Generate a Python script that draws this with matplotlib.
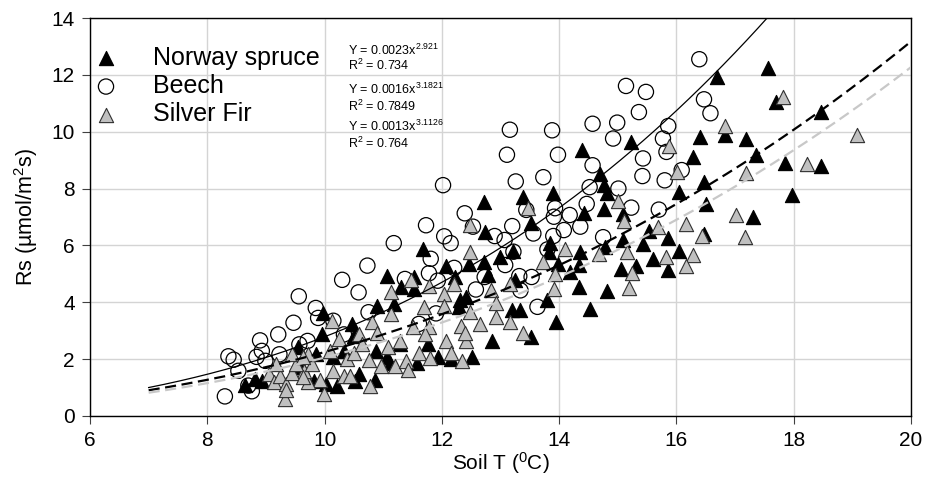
import numpy as np
import matplotlib.pyplot as plt

plt.rcParams['font.family'] = ['Liberation Sans', 'DejaVu Sans']
plt.rcParams['mathtext.fontset'] = 'custom'
plt.rcParams['mathtext.rm'] = 'Liberation Sans'
plt.rcParams['mathtext.it'] = 'Liberation Sans:italic'
plt.rcParams['mathtext.default'] = 'regular'

# Norway spruce (soil T, Rs)
spruce_t = [16.69, 17.56, 17.70, 18.47, 15.22, 16.41, 16.82, 17.19, 16.28, 17.36, 17.85, 18.47,
            17.97, 16.47, 16.05, 16.51, 17.30, 14.69, 14.76, 14.81, 14.76, 14.78, 14.81, 15.09,
            15.09, 15.53, 15.85, 15.43, 16.05, 15.60, 15.85, 15.05, 15.31, 16.47,
            12.72, 13.39, 13.90, 14.39, 13.52, 14.42, 12.74, 13.22, 13.84, 13.83, 13.98, 14.35,
            14.34, 14.18, 12.47, 12.72, 12.79, 12.99, 13.25, 14.34, 13.80, 13.19, 13.34, 13.95,
            14.53, 12.31, 12.42,
            11.67, 12.07, 11.07, 11.53, 11.31, 10.90, 11.18, 10.47, 12.23, 11.53, 12.30, 9.98,
            9.96, 10.15, 10.02, 10.21, 10.52, 10.58, 10.86, 10.88, 11.07, 11.12, 11.28, 11.58,
            11.76, 11.93, 12.16, 12.52, 12.85, 9.82, 9.62, 9.86, 10.33, 10.50, 13.52,
            8.64, 8.81, 8.93, 9.55]
spruce_rs = [11.94, 12.24, 11.06, 10.71, 9.65, 9.82, 9.88, 9.76, 9.12, 9.18, 8.91, 8.79,
             7.76, 8.24, 7.88, 7.47, 7.00, 8.53, 8.12, 7.85, 7.29, 5.94, 4.41, 6.18,
             7.12, 6.51, 6.27, 6.06, 5.82, 5.53, 5.12, 5.18, 5.29, 6.41,
             7.54, 7.69, 7.84, 9.36, 6.78, 7.15, 6.48, 5.80, 6.07, 5.78, 5.36, 5.78,
             5.31, 5.07, 5.36, 5.42, 4.95, 5.60, 4.78, 4.54, 4.07, 3.72, 3.72, 3.31,
             3.78, 4.07, 4.19,
             5.88, 5.26, 4.94, 4.88, 4.55, 3.88, 3.94, 3.24, 4.88, 4.47, 3.82, 3.61,
             2.87, 2.06, 1.13, 1.07, 1.24, 1.48, 1.27, 2.29, 2.06, 1.88, 2.52, 1.88,
             2.52, 2.06, 2.00, 2.06, 2.64, 1.24, 1.71, 2.17, 2.29, 2.81, 2.78,
             1.10, 1.30, 1.24, 2.41]

# Beech
beech_t = [16.39, 15.14, 15.48, 15.36, 14.99, 14.92, 16.47, 16.58, 15.86, 15.77, 15.83, 15.43,
           15.42, 15.80, 16.09, 15.01, 15.23, 15.70, 14.75,
           13.16, 13.88, 14.57, 13.11, 13.98, 13.26, 13.73, 14.57, 14.52, 12.39, 12.53, 13.44,
           13.93, 13.91, 14.18, 14.47, 13.20, 13.56, 14.08, 14.36, 12.90, 13.07, 13.90, 13.22,
           13.08, 13.32, 13.53, 12.73, 12.58, 13.34, 13.63, 13.80,
           12.02, 11.18, 11.73, 12.04, 12.15, 10.30, 10.58, 10.73, 11.81, 12.21, 11.78, 11.93,
           11.37, 10.75, 10.15, 11.61, 11.90,
           9.56, 9.85, 9.89,
           8.30, 8.36, 8.45, 8.53, 8.90, 8.93, 8.84, 9.21, 9.47, 9.57, 9.23, 8.70, 8.76, 8.99,
           9.71, 10.33]
beech_rs = [12.55, 11.61, 11.40, 10.69, 10.32, 9.76, 11.14, 10.65, 10.20, 9.76, 9.29, 9.06,
            8.44, 8.29, 8.65, 8.00, 7.33, 7.26, 6.29,
            10.07, 10.05, 10.28, 9.19, 9.19, 8.25, 8.40, 8.82, 8.05, 7.13, 6.66, 7.25,
            7.31, 7.01, 7.07, 7.46, 6.68, 6.42, 6.54, 6.66, 6.33, 6.19, 6.33, 5.78,
            5.31, 4.92, 4.89, 4.89, 4.45, 4.42, 3.84, 5.86,
            8.12, 6.08, 6.71, 6.32, 6.08, 4.79, 4.35, 5.29, 5.53, 5.21, 5.02, 4.76,
            4.82, 3.65, 3.35, 3.24, 3.61,
            4.21, 3.80, 3.45,
            0.69, 2.10, 1.98, 1.59, 2.66, 2.29, 2.08, 2.87, 3.28, 2.52, 2.17, 1.07, 0.87, 1.94,
            2.64, 2.87]

# Silver fir
fir_t = [17.81, 16.82, 15.88, 16.01, 17.19, 18.23, 19.08, 17.02, 17.17, 16.16, 16.44, 15.00,
         15.11, 15.69, 15.15, 15.82, 16.28, 16.17, 15.25, 15.19,
         12.48, 13.47, 12.48, 13.73, 14.10, 13.93, 14.68, 13.91, 13.17, 12.83, 12.92, 12.48,
         12.65, 12.93, 13.17,
         11.47, 11.13, 11.78, 12.04, 12.21, 10.81, 11.69, 12.03, 10.13, 11.13, 11.50, 11.78,
         12.33,
         9.99, 9.93, 9.72, 9.65, 9.79, 10.09, 10.15, 10.33, 10.44, 10.38, 10.75, 10.78,
         10.97, 11.20, 11.39, 11.43, 11.61, 11.80, 11.71, 12.07, 12.16, 12.35, 12.41, 12.40,
         10.58, 10.89, 11.09, 10.24, 10.50, 9.71, 10.64, 11.28, 13.38,
         9.06, 9.14, 9.24, 9.32, 9.35, 9.44, 9.52, 9.18, 9.35, 9.45, 9.64, 9.64]
fir_rs = [11.21, 10.20, 9.49, 8.59, 8.55, 8.88, 9.88, 7.06, 6.29, 6.74, 6.32, 7.56,
          6.86, 6.65, 5.76, 5.59, 5.68, 5.29, 5.02, 4.51,
          6.72, 7.31, 5.78, 5.42, 5.89, 5.01, 5.69, 4.48, 4.66, 4.42, 3.98, 3.66,
          3.25, 3.48, 3.31,
          4.79, 4.35, 4.59, 4.29, 4.65, 3.29, 3.85, 3.88, 3.35, 3.59, 3.12, 3.12,
          3.18,
          0.78, 1.27, 1.19, 1.59, 1.83, 2.29, 1.59, 1.42, 1.42, 2.00, 1.97, 1.07,
          1.77, 1.77, 1.94, 1.62, 2.23, 2.03, 2.87, 2.64, 2.23, 1.94, 2.64, 2.93,
          2.87, 2.93, 2.41, 2.70, 2.23, 2.17, 2.52, 2.64, 2.92,
          1.48, 1.19, 1.42, 0.60, 1.13, 1.53, 1.83, 1.83, 0.90, 2.17, 2.06, 1.36]

# power fits drawn on the chart: Rs = a * T^b
fit_a = {'spruce': 0.00634, 'beech': 0.00375, 'fir': 0.00543}
fit_b = {'spruce': 2.55, 'beech': 2.871, 'fir': 2.578}
eq_labels = [('Y = 0.0023x$^{2.921}$', 'R$^2$ = 0.734'),
             ('Y = 0.0016x$^{3.1821}$', 'R$^2$ = 0.7849'),
             ('Y = 0.0013x$^{3.1126}$', 'R$^2$ = 0.764')]

fig = plt.figure(figsize=(9.26, 4.84), dpi=100)
ax = fig.add_axes([0.0972, 0.1405, 0.8866, 0.8223])

ns = ax.scatter(spruce_t, spruce_rs, marker='^', s=105, c='black', edgecolors='black',
                linewidths=0.8, zorder=2, label='Norway spruce')
bc = ax.scatter(beech_t, beech_rs, marker='o', s=120, facecolors='none', edgecolors='black',
                linewidths=0.9, zorder=2, label='Beech')
sf = ax.scatter(fir_t, fir_rs, marker='^', s=105, c='#c0c0c0', edgecolors='#303030',
                linewidths=0.8, zorder=2, label='Silver Fir')

tt = np.linspace(7, 20, 200)
ax.plot(tt, fit_a['beech'] * tt ** fit_b['beech'], color='black', lw=0.9, zorder=3)
ax.plot(tt, fit_a['spruce'] * tt ** fit_b['spruce'], color='black', lw=1.6,
        dashes=(5, 2.5), zorder=3)
ax.plot(tt, fit_a['fir'] * tt ** fit_b['fir'], color='#c8c8c8', lw=1.6,
        dashes=(5, 2.5), zorder=3)

ax.set_xlim(6, 20)
ax.set_ylim(0, 14)
ax.set_xticks(range(6, 21, 2))
ax.set_yticks(range(0, 15, 2))
ax.grid(color='#d4d4d4', lw=1)
ax.set_axisbelow(True)
ax.tick_params(direction='out', length=6, labelsize=15, pad=5, color='#404040')
for sp in ax.spines.values():
    sp.set_color('black')
    sp.set_linewidth(1)

ax.set_xlabel('Soil T ($^0$C)', fontsize=15, labelpad=0)
ax.set_ylabel('Rs (\u00b5mol/m$^2$s)', fontsize=15.5, labelpad=8)

ax.legend(handles=[ns, bc, sf], loc='upper left', bbox_to_anchor=(0.0073, 0.93),
          frameon=False, fontsize=18, borderaxespad=0, borderpad=0,
          handlelength=0.8, handletextpad=1.48, labelspacing=0.17, scatterpoints=1)

eq_y = [(12.70, 12.16), (11.32, 10.74), (10.01, 9.44)]
for (l1, l2), (y1, y2) in zip(eq_labels, eq_y):
    ax.text(10.40, y1, l1, fontsize=9, va='baseline', ha='left')
    ax.text(10.40, y2, l2, fontsize=9, va='baseline', ha='left')

fig.savefig('out.png', dpi=100)
